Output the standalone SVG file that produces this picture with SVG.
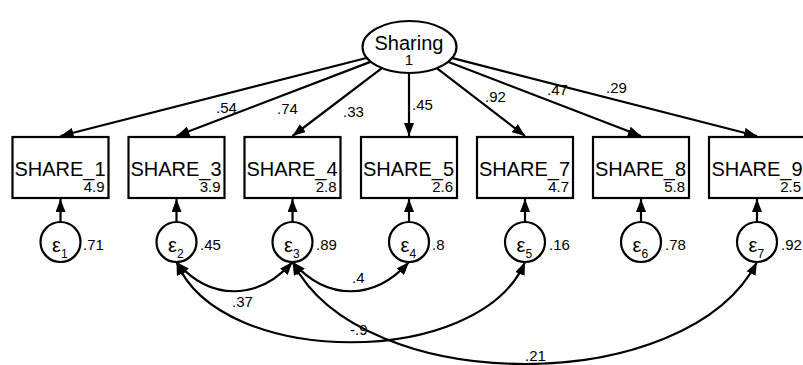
<svg xmlns="http://www.w3.org/2000/svg" width="803" height="365" viewBox="0 0 803 365">
<defs>
<marker id="ah" markerWidth="13" markerHeight="10" refX="13" refY="5" orient="auto-start-reverse" markerUnits="userSpaceOnUse">
<path d="M0,0 L13,5 L0,10 z" fill="#000"/>
</marker>
<style>
.t{font-family:"Liberation Sans",Arial,sans-serif;fill:#000}
.big{font-size:20px}
.sm{font-size:15px}
.eps{font-size:20px}
.sub{font-size:12px}
.box{fill:#fff;stroke:#000;stroke-width:2.2}
.circ{fill:#fff;stroke:#000;stroke-width:2.2}
.ln{fill:none;stroke:#000;stroke-width:2.2;marker-end:url(#ah)}
.cv{fill:none;stroke:#000;stroke-width:2.2;marker-start:url(#ah);marker-end:url(#ah)}
</style>
</defs>
<rect width="803" height="365" fill="#fff"/>
<g id="connectors">
<line class="ln" x1="366.4" y1="58" x2="60.5" y2="136"/>
<line class="ln" x1="370.4" y1="61.9" x2="176.5" y2="136"/>
<line class="ln" x1="381.6" y1="68.3" x2="292.5" y2="136"/>
<line class="ln" x1="409" y1="73.3" x2="409" y2="136"/>
<line class="ln" x1="437.1" y1="68.4" x2="525" y2="136"/>
<line class="ln" x1="448.5" y1="62" x2="641" y2="136"/>
<line class="ln" x1="452.6" y1="58.1" x2="757" y2="136"/>
<line class="ln" x1="60.5" y1="222" x2="60.5" y2="199"/>
<line class="ln" x1="176.5" y1="222" x2="176.5" y2="199"/>
<line class="ln" x1="292.5" y1="222" x2="292.5" y2="199"/>
<line class="ln" x1="409" y1="222" x2="409" y2="199"/>
<line class="ln" x1="525" y1="222" x2="525" y2="199"/>
<line class="ln" x1="641" y1="222" x2="641" y2="199"/>
<line class="ln" x1="757" y1="222" x2="757" y2="199"/>
<path class="cv" d="M176.5,262 C210,301 258,301 292.5,262"/>
<path class="cv" d="M292.5,262 C327,301 374,301 409,262"/>
<path class="cv" d="M176.5,262 C221,369 480,369 525,262"/>
<path class="cv" d="M292.5,262 C362,398 687,398 757,262"/>
<text class="t sm" x="216" y="113">.54</text>
<text class="t sm" x="277" y="114">.74</text>
<text class="t sm" x="343" y="117">.33</text>
<text class="t sm" x="412" y="110">.45</text>
<text class="t sm" x="485" y="102">.92</text>
<text class="t sm" x="547" y="95">.47</text>
<text class="t sm" x="606" y="93">.29</text>
<text class="t sm" x="232" y="307">.37</text>
<text class="t sm" x="352" y="283">.4</text>
<text class="t sm" x="350" y="335">-.9</text>
<text class="t sm" x="525" y="361">.21</text>
</g>
<g id="Sharing">
<ellipse cx="409.5" cy="47" rx="47" ry="26" fill="#fff" stroke="#000" stroke-width="2.2"/>
<text class="t big" x="409" y="50" text-anchor="middle">Sharing</text>
<text class="t sm" x="409" y="65" text-anchor="middle">1</text>
</g>
<g id="SHARE_1">
<rect class="box" x="12.5" y="137" width="96" height="61"/>
<text class="t big" x="60" y="176" text-anchor="middle">SHARE_1</text>
<text class="t sm" x="104.5" y="192" text-anchor="end">4.9</text>
</g>
<g id="SHARE_3">
<rect class="box" x="128.5" y="137" width="96" height="61"/>
<text class="t big" x="176" y="176" text-anchor="middle">SHARE_3</text>
<text class="t sm" x="220.5" y="192" text-anchor="end">3.9</text>
</g>
<g id="SHARE_4">
<rect class="box" x="244.5" y="137" width="96" height="61"/>
<text class="t big" x="292" y="176" text-anchor="middle">SHARE_4</text>
<text class="t sm" x="336.5" y="192" text-anchor="end">2.8</text>
</g>
<g id="SHARE_5">
<rect class="box" x="361" y="137" width="96" height="61"/>
<text class="t big" x="408.5" y="176" text-anchor="middle">SHARE_5</text>
<text class="t sm" x="453" y="192" text-anchor="end">2.6</text>
</g>
<g id="SHARE_7">
<rect class="box" x="477" y="137" width="96" height="61"/>
<text class="t big" x="524.5" y="176" text-anchor="middle">SHARE_7</text>
<text class="t sm" x="569" y="192" text-anchor="end">4.7</text>
</g>
<g id="SHARE_8">
<rect class="box" x="593" y="137" width="96" height="61"/>
<text class="t big" x="640.5" y="176" text-anchor="middle">SHARE_8</text>
<text class="t sm" x="685" y="192" text-anchor="end">5.8</text>
</g>
<g id="SHARE_9">
<rect class="box" x="709" y="137" width="96" height="61"/>
<text class="t big" x="757" y="176" text-anchor="middle">SHARE_9</text>
<text class="t sm" x="801" y="192" text-anchor="end">2.5</text>
</g>
<g id="e1">
<circle class="circ" cx="60.5" cy="242" r="20"/>
<text class="t eps" x="52" y="252">ε<tspan class="sub" dy="6">1</tspan></text>
<text class="t sm" x="83" y="250">.71</text>
</g>
<g id="e2">
<circle class="circ" cx="176.5" cy="242" r="20"/>
<text class="t eps" x="168" y="252">ε<tspan class="sub" dy="6">2</tspan></text>
<text class="t sm" x="200" y="250">.45</text>
</g>
<g id="e3">
<circle class="circ" cx="292.5" cy="242" r="20"/>
<text class="t eps" x="284" y="252">ε<tspan class="sub" dy="6">3</tspan></text>
<text class="t sm" x="316" y="250">.89</text>
</g>
<g id="e4">
<circle class="circ" cx="409" cy="242" r="20"/>
<text class="t eps" x="400.5" y="252">ε<tspan class="sub" dy="6">4</tspan></text>
<text class="t sm" x="432" y="250">.8</text>
</g>
<g id="e5">
<circle class="circ" cx="525" cy="242" r="20"/>
<text class="t eps" x="516.5" y="252">ε<tspan class="sub" dy="6">5</tspan></text>
<text class="t sm" x="549" y="250">.16</text>
</g>
<g id="e6">
<circle class="circ" cx="641" cy="242" r="20"/>
<text class="t eps" x="632.5" y="252">ε<tspan class="sub" dy="6">6</tspan></text>
<text class="t sm" x="665" y="250">.78</text>
</g>
<g id="e7">
<circle class="circ" cx="757" cy="242" r="20"/>
<text class="t eps" x="748.5" y="252">ε<tspan class="sub" dy="6">7</tspan></text>
<text class="t sm" x="781" y="250">.92</text>
</g>
</svg>
